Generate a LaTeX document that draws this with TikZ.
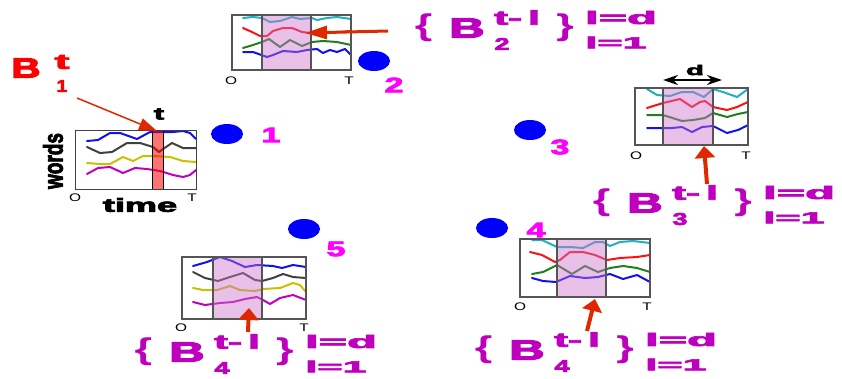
\documentclass[tikz,border=0pt]{standalone}
\usepackage{fontspec}
\setmainfont{Liberation Sans}
\newfontfamily\wf{Liberation Sans}
\newfontfamily\hf[UprightFont={* Bold},FakeBold=3.5]{Liberation Sans}
\usetikzlibrary{arrows.meta,shapes.geometric}
\definecolor{lblmag}{RGB}{190,0,190}
\definecolor{nummag}{RGB}{255,0,255}
\definecolor{dotblue}{RGB}{0,0,255}
\definecolor{lcyan}{RGB}{32,176,192}
\definecolor{lred}{RGB}{255,16,16}
\definecolor{lgreen}{RGB}{32,128,32}
\definecolor{lblue}{RGB}{16,16,240}
\definecolor{lgray}{RGB}{64,64,64}
\definecolor{lolive}{RGB}{200,192,0}
\definecolor{lmag}{RGB}{192,0,192}
\definecolor{framegray}{RGB}{85,85,85}
\definecolor{shadec}{RGB}{204,115,204}
\definecolor{arrred}{RGB}{224,40,0}
\newcommand\sz[3]{\fontsize{#1}{#1}\selectfont\scalebox{#2}[1]{#3}}
\newcommand\bset[4]{%
  \node[lblc,font=\wf\bfseries] (#1lb) at (#2+8.5,#3) {\sz{30}{1.5}{\{}};
  \node[lblc] (#1B) at (#2+52,#3) {\sz{28}{1.75}{B}};
  \node[lblc] (#1sup) at (#2+102,#3-10.5) {\sz{20}{2.1}{t-\kern3pt l}};
  \node[lblc] (#1sub) at (#2+87,#3+16) {\sz{17}{1.6}{#4}};
  \node[lblc,font=\wf\bfseries] (#1rb) at (#2+150,#3) {\sz{30}{1.5}{\}}};
  \node[lblc] (#1up) at (#2+206,#3-10.5) {\sz{18}{2.7}{l=d}};
  \node[lblc] (#1lo) at (#2+201,#3+14.5) {\sz{16}{2.7}{l=1}};
}
\begin{document}
\begin{tikzpicture}[x=1pt,y=-1pt,
  every node/.style={inner sep=0pt,outer sep=0pt},
  wtxt/.style={font=\hf},
  lblc/.style={wtxt,text=lblmag},
  num/.style={wtxt,text=nummag},
  axl/.style={font=\wf,text=black},
  dotn/.style={ellipse,fill=dotblue,minimum width=32pt,minimum height=20pt},
  cl/.style={line width=2pt,line join=round,line cap=round},
  frame/.style={draw=framegray,line width=1.2pt},
  shadefill/.style={fill=shadec,fill opacity=0.45},
  bigarr/.style={draw=arrred,line width=4pt,-{Triangle[length=12pt,width=20pt]}},
  medarr/.style={draw=arrred,line width=3pt,-{Triangle[length=22pt,width=13pt]}},
  thinarr/.style={draw=arrred,line width=1.5pt,-{Triangle[length=18pt,width=12pt]}}
]
\useasboundingbox (0,0) rectangle (842,378);

% ---------- chart 1 ----------
\draw[cl,lblue] (87,141) -- (98,140) -- (110,133) -- (120,133) -- (137,139) -- (150,132) -- (163,132) -- (173,132) -- (183,131) -- (190,133) -- (196,139);
\draw[cl,lgray] (87,147) -- (100,153) -- (112,152) -- (127,143) -- (140,143) -- (153,147) -- (159,152) -- (163,149) -- (172,143) -- (183,148) -- (196,148);
\draw[cl,lolive] (87,163) -- (100,164) -- (110,164) -- (123,157) -- (133,161) -- (143,156) -- (153,156) -- (170,157) -- (183,161) -- (196,162);
\draw[cl,lmag] (87,174) -- (98,168) -- (110,167) -- (123,173) -- (135,168) -- (147,169) -- (160,171) -- (173,175) -- (183,177) -- (190,175) -- (196,170);
\filldraw[fill=red,fill opacity=0.55,draw=black,line width=1pt] (152,130) rectangle (163,189);
\draw[draw=lgray,line width=1pt] (75,130) rectangle (196,189);
\node[wtxt] (tlab) at (159,114) {\sz{17}{1.8}{t}};
\node[wtxt,rotate=90] (words) at (53,161) {\fontsize{20}{20}\selectfont\scalebox{0.95}[1.35]{words}};
\node[wtxt] (time) at (140,205) {\sz{19}{1.9}{time}};
\node[axl] (o1) at (75,198) {\sz{11}{1.4}{O}};
\node[axl] (t1) at (192,198) {\sz{11}{1.4}{T}};

% B^t_1 label
\node[wtxt,text=red] (Bt) at (26,68) {\sz{28}{1.45}{B}};
\node[wtxt,text=red] (Btsup) at (62,62) {\sz{21}{2.1}{t}};
\node[wtxt,text=red] (Btsub) at (62,86) {\sz{17}{1.15}{1}};
\coordinate (a1s) at (77,98);
\coordinate (a1e) at (157,131);
\draw[thinarr] (a1s) -- (a1e);

% ---------- chart 2 ----------
\draw[cl,lcyan] (243,18) -- (253,17) -- (262,18) -- (270,22) -- (280,21) -- (292,17) -- (300,19) -- (312,18) -- (317,20) -- (327,18) -- (337,17) -- (351,19);
\draw[cl,lred] (243,28) -- (252,32) -- (260,36) -- (267,36) -- (273,31) -- (283,28) -- (292,28) -- (302,32) -- (310,33) -- (320,32) -- (330,32) -- (340,32) -- (351,31);
\draw[cl,lgreen] (243,48) -- (253,45) -- (262,42) -- (269,39) -- (280,47) -- (290,40) -- (302,46) -- (312,42) -- (323,41) -- (337,42) -- (351,45);
\draw[cl,lblue] (243,52) -- (253,52) -- (267,57) -- (273,55) -- (283,51) -- (297,52) -- (307,50) -- (317,49) -- (323,53) -- (330,50) -- (337,52) -- (345,49) -- (351,55);
\fill[shadefill] (262,15) rectangle (311,70);
\draw[frame] (232,15) rectangle (351,70);
\draw[frame] (262,15) -- (262,70) (311,15) -- (311,70);
\node[axl] (o2) at (231,81) {\sz{11}{1.4}{O}};
\node[axl] (t2) at (349,81) {\sz{11}{1.4}{T}};
\bset{L2}{415}{28}{2}
\coordinate (a2s) at (388,31);
\coordinate (a2e) at (305,33);
\draw[medarr] (a2s) -- (a2e);

% ---------- chart 3 ----------
\draw[cl,lcyan] (647,89) -- (657,95) -- (670,96) -- (682,92) -- (693,92) -- (704,97) -- (713,89) -- (723,92) -- (737,97) -- (748,89);
\draw[cl,lred] (647,108) -- (663,103) -- (680,99) -- (692,107) -- (700,102) -- (705,101) -- (713,107) -- (727,110) -- (737,107) -- (748,102);
\draw[cl,lgreen] (647,115) -- (663,115) -- (682,121) -- (693,120) -- (705,118) -- (713,113) -- (727,117) -- (738,114) -- (748,112);
\draw[cl,lblue] (647,128) -- (663,128) -- (672,128) -- (682,127) -- (692,132) -- (702,127) -- (713,126) -- (727,133) -- (738,130) -- (748,125);
\fill[shadefill] (663,88) rectangle (713,145);
\draw[frame] (635,88) rectangle (748,145);
\draw[frame] (663,88) -- (663,145) (713,88) -- (713,145);
\node[axl] (o3) at (636,156) {\sz{11}{1.4}{O}};
\node[axl] (t3) at (746,156) {\sz{11}{1.4}{T}};
\node[wtxt] (dlab) at (695,70) {\sz{14}{2.1}{d}};
\coordinate (dl) at (663,80);
\coordinate (dr) at (722,80);
\draw[line width=1.5pt,{Stealth[length=15pt,width=10pt]}-{Stealth[length=15pt,width=10pt]}] (dl) -- (dr);
\bset{L3}{593}{203}{3}
\coordinate (a3s) at (707,184);
\coordinate (a3e) at (704,146);
\draw[bigarr] (a3s) -- (a3e);

% ---------- chart 4 (bottom left) ----------
\draw[cl,lblue] (193,266) -- (207,262) -- (220,257) -- (232,261) -- (245,267) -- (257,265) -- (273,266) -- (282,268) -- (293,265) -- (306,267);
\draw[cl,lgray] (193,272) -- (205,278) -- (218,281) -- (230,277) -- (243,273) -- (255,280) -- (262,281) -- (273,278) -- (283,274) -- (293,277) -- (306,278);
\draw[cl,lolive] (193,288) -- (203,290) -- (217,290) -- (230,286) -- (240,290) -- (255,291) -- (263,289) -- (280,288) -- (293,283) -- (300,285) -- (306,292);
\draw[cl,lmag] (193,302) -- (205,305) -- (220,303) -- (233,302) -- (245,299) -- (257,297) -- (263,300) -- (270,304) -- (280,298) -- (293,295) -- (306,300);
\fill[shadefill] (213,257) rectangle (262,319);
\draw[frame] (182,257) rectangle (306,319);
\draw[frame] (213,257) -- (213,319) (262,257) -- (262,319);
\node[axl] (o4) at (181,328) {\sz{11}{1.4}{O}};
\node[axl] (t4) at (304,328) {\sz{11}{1.4}{T}};
\bset{L4}{135}{352}{4}
\coordinate (a4s) at (248,332);
\coordinate (a4e) at (249,308);
\draw[bigarr] (a4s) -- (a4e);

% ---------- chart 5 (bottom right) ----------
\draw[cl,lcyan] (532,240) -- (542,240) -- (557,247) -- (570,247) -- (583,248) -- (595,242) -- (603,242) -- (610,246) -- (620,242) -- (633,241) -- (650,243);
\draw[cl,lred] (530,252) -- (542,255) -- (555,262) -- (560,260) -- (570,252) -- (583,252) -- (595,255) -- (607,260) -- (620,258) -- (637,257) -- (650,255);
\draw[cl,lgreen] (532,274) -- (543,272) -- (557,265) -- (572,274) -- (585,266) -- (598,272) -- (610,268) -- (623,266) -- (637,268) -- (650,272);
\draw[cl,lblue] (532,278) -- (543,281) -- (556,282) -- (570,276) -- (585,278) -- (598,277) -- (610,274) -- (623,279) -- (637,275) -- (650,282);
\fill[shadefill] (557,239) rectangle (606,297);
\draw[frame] (520,239) rectangle (650,297);
\draw[frame] (557,239) -- (557,297) (606,239) -- (606,297);
\node[axl] (o5) at (520,307) {\sz{11}{1.4}{O}};
\node[axl] (t5) at (647,307) {\sz{11}{1.4}{T}};
\bset{L5}{475}{350}{4}
\coordinate (a5s) at (587,331);
\coordinate (a5e) at (595,299);
\draw[bigarr] (a5s) -- (a5e);

% ---------- dots and numbers ----------
\node[dotn] (d1) at (227,134) {};
\node[num] (n1) at (271,135) {\sz{21}{1.6}{1}};
\node[dotn] (d2) at (374,61) {};
\node[num] (n2) at (394,85) {\sz{21}{1.6}{2}};
\node[dotn] (d3) at (530,130) {};
\node[num] (n3) at (560,147) {\sz{21}{1.6}{3}};
\node[dotn] (d4) at (492,228) {};
\node[num] (n4) at (536,230) {\sz{21}{1.6}{4}};
\node[dotn] (d5) at (304,229) {};
\node[num] (n5) at (336,249) {\sz{21}{1.6}{5}};
\end{tikzpicture}
\end{document}
